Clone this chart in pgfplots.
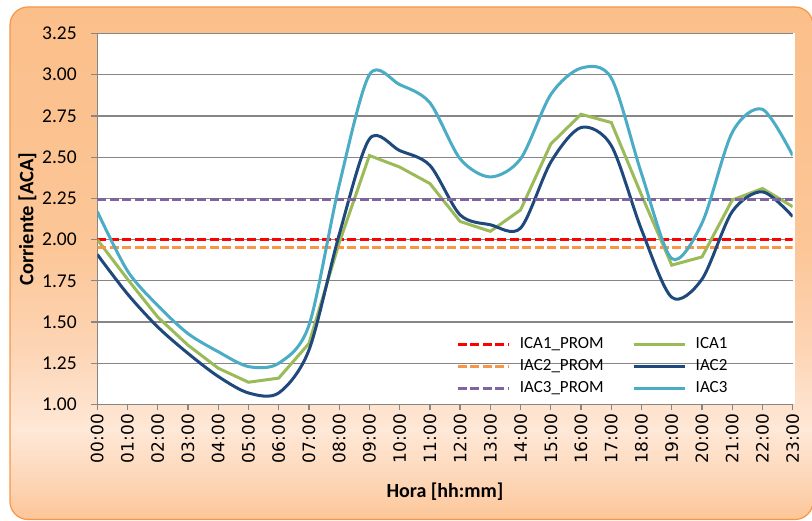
\documentclass[border=0pt]{standalone}
\usepackage{pgfplots}
\pgfplotsset{compat=1.18}
\usepackage{fontspec}
\setmainfont{Carlito}
\newfontfamily\dejavu{DejaVu Sans}
\definecolor{bg0}{HTML}{FCC597}
\definecolor{bg1}{HTML}{FDD3B1}
\definecolor{bg2}{HTML}{FEE8D7}
\definecolor{bg3}{HTML}{FDD5B5}
\definecolor{bg4}{HTML}{FCC697}
\definecolor{bg5}{HTML}{FBBF8A}
\definecolor{bgborder}{HTML}{F79646}
\definecolor{gridgray}{HTML}{868686}
\definecolor{cgreen}{HTML}{9BBB59}
\definecolor{cnavy}{HTML}{1F497D}
\definecolor{cblue}{HTML}{4BACC6}
\definecolor{cred}{HTML}{FF0000}
\definecolor{corange}{HTML}{F79646}
\definecolor{cpurple}{HTML}{8064A2}
\pgfdeclareverticalshading{bgshade}{100bp}{color(0bp)=(bg0); color(25bp)=(bg0); color(28bp)=(bg1); color(33.75bp)=(bg2); color(41.5bp)=(bg3); color(51.5bp)=(bg4); color(75bp)=(bg5); color(100bp)=(bg5)}
\begin{document}
\begin{tikzpicture}[x=1pt,y=1pt]
\useasboundingbox (0,0) rectangle (812,521);
\shade[shading=bgshade, draw=bgborder, line width=1.2pt, rounded corners=18pt] (10,1.5) rectangle (813,514);
\fill[white] (97.3,116.5) rectangle (795,487.5);
\begin{axis}[
  at={(97.3pt,116.5pt)}, anchor=south west,
  scale only axis, width=695.4pt, height=371pt,
  xmin=0, xmax=23, ymin=1, ymax=3.25,
  axis x line*=bottom, axis y line*=left,
  axis line style={draw=gridgray, line width=1.3pt},
  ymajorgrids, grid style={draw=gridgray, line width=1.3pt},
  xtick={0,...,23},
  xticklabels={00:00,01:00,02:00,03:00,04:00,05:00,06:00,07:00,08:00,09:00,10:00,11:00,12:00,13:00,14:00,15:00,16:00,17:00,18:00,19:00,20:00,21:00,22:00,23:00},
  ytick={1,1.25,1.5,1.75,2,2.25,2.5,2.75,3,3.25},
  tick align=outside, major tick length=6pt,
  tick style={draw=gridgray, line width=1.3pt},
  /pgf/number format/assume math mode=true,
  yticklabel style={/pgf/number format/.cd, fixed, fixed zerofill, precision=2, /tikz/.cd, font=\fontsize{19.5}{19.5}\selectfont, xshift=-11pt},
  xticklabel style={rotate=90, anchor=east, font=\dejavu\fontsize{17}{17}\selectfont},
  xlabel={Hora [hh:mm]}, ylabel={Corriente [ACA]},
  xlabel style={at={(axis description cs:0.5,0)}, anchor=center, yshift=-87pt, font=\bfseries\fontsize{20}{20}\selectfont},
  ylabel style={at={(axis description cs:0,0.5)}, anchor=center, yshift=70pt, font=\bfseries\fontsize{20.5}{20.5}\selectfont},
  legend columns=2, legend cell align=left,
  legend image code/.code={\draw[#1] (0pt,0pt) -- (51pt,0pt);},
  legend style={at={(0.516,0.102)}, anchor=west, draw=none, fill=none, inner sep=0pt,
    font=\fontsize{17}{17}\selectfont,
    nodes={inner sep=3.5pt, text height=11.5pt, text depth=3.5pt},
    /tikz/every even column/.append style={column sep=25pt},
    /tikz/every odd column/.append style={column sep=6pt}},
]
\addplot[cred, line width=3pt, dash pattern=on 9pt off 3.5pt] coordinates {(0,2.00) (23,2.00)};
\addlegendentry{ICA1\_PROM}
\addplot[cgreen, line width=3pt] coordinates {(0,2.00)(1,1.76)(2,1.53)(3,1.36)(4,1.22)(5,1.135)(6,1.16)(7,1.37)(8,1.98)(9,2.51)(10,2.44)(11,2.34)(12,2.11)(13,2.05)(14,2.18)(15,2.58)(16,2.76)(17,2.71)(18,2.27)(19,1.845)(20,1.895)(21,2.24)(22,2.31)(23,2.20)};
\addlegendentry{ICA1}
\addplot[corange, line width=3pt, dash pattern=on 9pt off 3.5pt] coordinates {(0,1.95) (23,1.95)};
\addlegendentry{IAC2\_PROM}
\addplot[cnavy, line width=3pt, smooth, tension=0.5] coordinates {(0,1.91)(1,1.67)(2,1.47)(3,1.31)(4,1.17)(5,1.07)(6,1.07)(7,1.33)(8,2.03)(9,2.61)(10,2.54)(11,2.45)(12,2.15)(13,2.09)(14,2.07)(15,2.47)(16,2.68)(17,2.57)(18,2.06)(19,1.65)(20,1.76)(21,2.17)(22,2.29)(23,2.14)};
\addlegendentry{IAC2}
\addplot[cpurple, line width=3pt, dash pattern=on 9pt off 3.5pt] coordinates {(0,2.245) (23,2.245)};
\addlegendentry{IAC3\_PROM}
\addplot[cblue, line width=3pt, smooth, tension=0.5] coordinates {(0,2.17)(1,1.81)(2,1.60)(3,1.43)(4,1.32)(5,1.23)(6,1.25)(7,1.48)(8,2.33)(9,3.00)(10,2.94)(11,2.83)(12,2.49)(13,2.38)(14,2.49)(15,2.88)(16,3.04)(17,2.98)(18,2.40)(19,1.885)(20,2.10)(21,2.65)(22,2.79)(23,2.51)};
\addlegendentry{IAC3}
\end{axis}
\end{tikzpicture}
\end{document}
